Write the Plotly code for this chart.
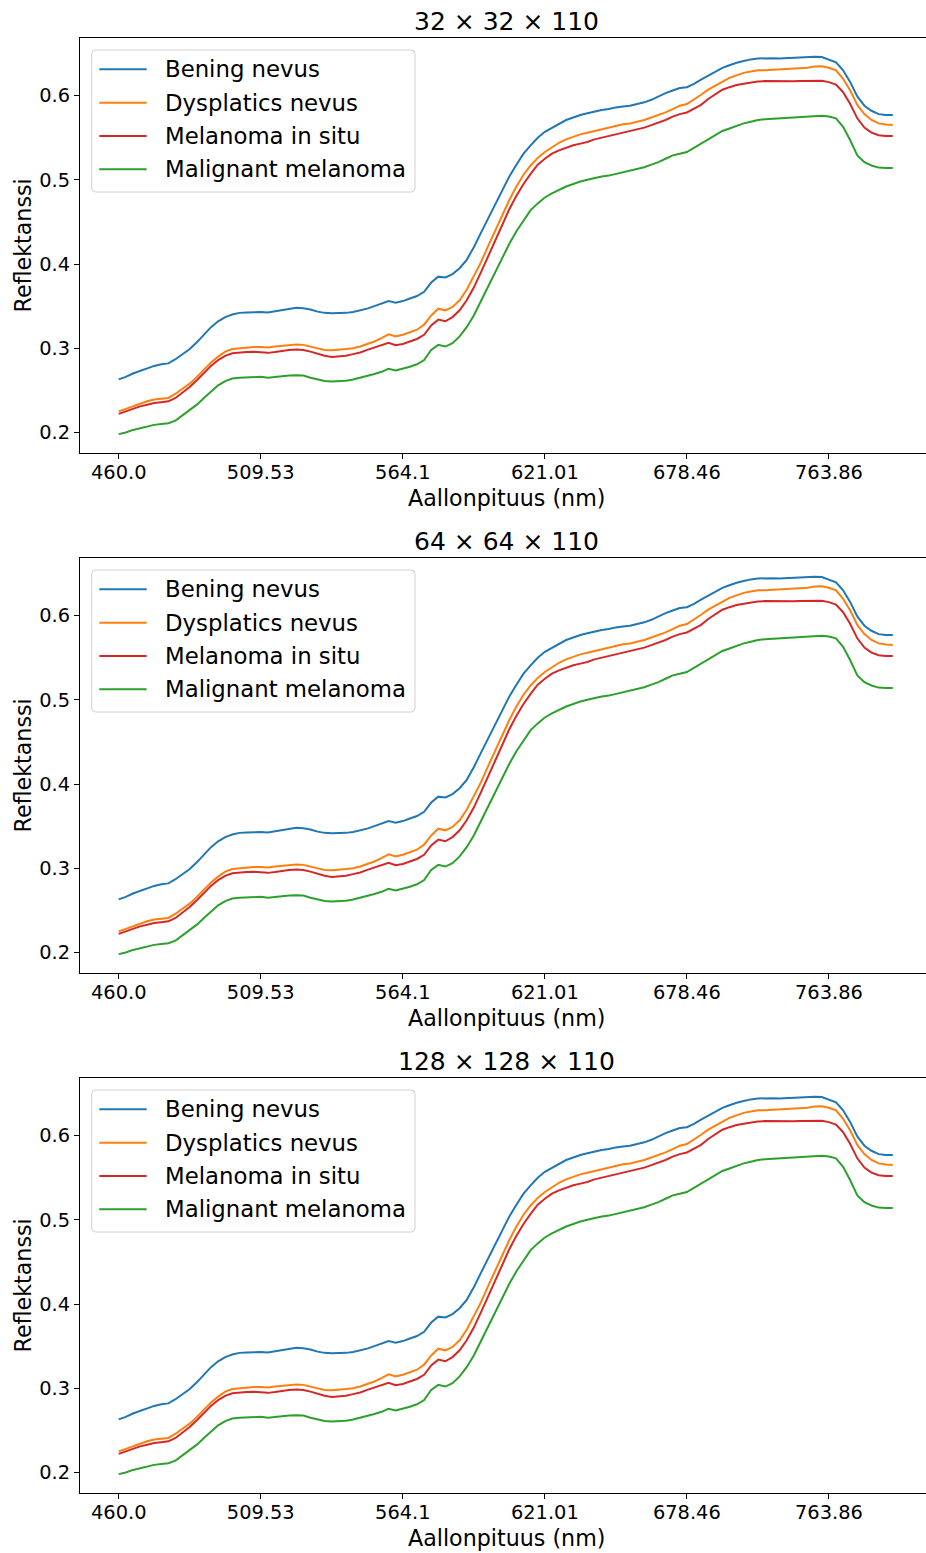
import plotly.graph_objects as go
from plotly.subplots import make_subplots

# ---------------- data ----------------
band_index = list(range(110))
tick_index = [0, 20, 40, 60, 80, 100]
tick_labels = ["460.0", "509.53", "564.1", "621.01", "678.46", "763.86"]
y_ticks = [0.2, 0.3, 0.4, 0.5, 0.6]
panel_titles = ["32 × 32 × 110", "64 × 64 × 110", "128 × 128 × 110"]
series_names = ["Bening nevus", "Dysplatics nevus", "Melanoma in situ", "Malignant melanoma"]
series_colors = ["#1f77b4", "#ff7f0e", "#d62728", "#2ca02c"]

bening_nevus = [
    0.263, 0.266, 0.270, 0.273, 0.276, 0.279, 0.281, 0.282, 0.287, 0.293,
    0.299, 0.307, 0.316, 0.325, 0.332, 0.337, 0.340, 0.342, 0.3425, 0.343,
    0.343, 0.3425, 0.344, 0.345, 0.347, 0.348, 0.3475, 0.346, 0.3435, 0.342,
    0.3415, 0.3415, 0.342, 0.343, 0.345, 0.347, 0.350, 0.353, 0.356, 0.354,
    0.356, 0.359, 0.362, 0.367, 0.378, 0.385, 0.384, 0.388, 0.395, 0.405,
    0.420, 0.437, 0.454, 0.471, 0.488, 0.504, 0.518, 0.531, 0.541, 0.550,
    0.557, 0.562, 0.567, 0.571, 0.574, 0.577, 0.579, 0.581, 0.583, 0.584,
    0.586, 0.587, 0.588, 0.590, 0.592, 0.595, 0.599, 0.603, 0.606, 0.609,
    0.610, 0.614, 0.619, 0.624, 0.629, 0.633, 0.636, 0.639, 0.641, 0.643,
    0.644, 0.6445, 0.6445, 0.644, 0.6445, 0.645, 0.645, 0.6455, 0.646, 0.6458,
    0.643, 0.6395, 0.630, 0.616, 0.599, 0.588, 0.582, 0.578, 0.577, 0.577,
]
dysplatics_nevus = [
    0.225, 0.228, 0.231, 0.234, 0.237, 0.239, 0.240, 0.241, 0.246, 0.252,
    0.258, 0.266, 0.275, 0.283, 0.290, 0.296, 0.299, 0.300, 0.301, 0.3015,
    0.3015, 0.301, 0.302, 0.303, 0.304, 0.3045, 0.304, 0.302, 0.300, 0.298,
    0.2975, 0.298, 0.299, 0.300, 0.302, 0.305, 0.308, 0.312, 0.3165, 0.314,
    0.316, 0.319, 0.322, 0.328, 0.339, 0.347, 0.345, 0.349, 0.357, 0.3695,
    0.385, 0.402, 0.421, 0.440, 0.458, 0.476, 0.492, 0.506, 0.517, 0.526,
    0.533, 0.539, 0.544, 0.548, 0.551, 0.554, 0.556, 0.558, 0.560, 0.562,
    0.564, 0.566, 0.567, 0.569, 0.571, 0.574, 0.577, 0.580, 0.584, 0.588,
    0.590, 0.595, 0.601, 0.607, 0.612, 0.617, 0.621, 0.624, 0.627, 0.6285,
    0.630, 0.630, 0.6305, 0.6305, 0.631, 0.6315, 0.632, 0.633, 0.6345, 0.6348,
    0.633, 0.630, 0.620, 0.606, 0.589, 0.578, 0.571, 0.567, 0.5656, 0.565,
]
melanoma_in_situ = [
    0.222, 0.225, 0.228, 0.231, 0.233, 0.235, 0.236, 0.237, 0.241, 0.247,
    0.254, 0.262, 0.271, 0.279, 0.286, 0.291, 0.294, 0.295, 0.2955, 0.2958,
    0.2955, 0.2945, 0.2955, 0.297, 0.298, 0.2985, 0.298, 0.296, 0.2935, 0.291,
    0.2897, 0.290, 0.291, 0.293, 0.295, 0.298, 0.301, 0.304, 0.3065, 0.3035,
    0.305, 0.308, 0.311, 0.316, 0.327, 0.334, 0.332, 0.337, 0.345, 0.357,
    0.372, 0.390, 0.409, 0.428, 0.447, 0.465, 0.481, 0.495, 0.507, 0.518,
    0.525, 0.531, 0.535, 0.538, 0.541, 0.543, 0.545, 0.548, 0.550, 0.552,
    0.554, 0.556, 0.5577, 0.560, 0.562, 0.565, 0.568, 0.571, 0.575, 0.578,
    0.580, 0.585, 0.589, 0.596, 0.602, 0.607, 0.610, 0.6125, 0.614, 0.6155,
    0.6168, 0.6172, 0.617, 0.6166, 0.6168, 0.617, 0.6172, 0.6176, 0.6178, 0.6176,
    0.616, 0.613, 0.604, 0.590, 0.573, 0.562, 0.556, 0.553, 0.552, 0.552,
]
malignant_melanoma = [
    0.198, 0.200, 0.203, 0.205, 0.207, 0.209, 0.210, 0.211, 0.214, 0.220,
    0.226, 0.233, 0.241, 0.249, 0.256, 0.261, 0.264, 0.265, 0.2655, 0.266,
    0.266, 0.265, 0.266, 0.2665, 0.2675, 0.268, 0.2675, 0.265, 0.263, 0.261,
    0.2605, 0.261, 0.2615, 0.263, 0.265, 0.267, 0.2695, 0.272, 0.2755, 0.2735,
    0.2755, 0.278, 0.281, 0.286, 0.298, 0.304, 0.302, 0.306, 0.314, 0.325,
    0.339, 0.356, 0.373, 0.390, 0.407, 0.424, 0.439, 0.452, 0.464, 0.472,
    0.479, 0.484, 0.488, 0.492, 0.495, 0.498, 0.500, 0.502, 0.504, 0.505,
    0.507, 0.509, 0.511, 0.513, 0.515, 0.518, 0.521, 0.525, 0.529, 0.531,
    0.533, 0.538, 0.543, 0.549, 0.554, 0.558, 0.561, 0.564, 0.567, 0.569,
    0.571, 0.572, 0.5725, 0.5727, 0.573, 0.5735, 0.574, 0.575, 0.5757, 0.5762,
    0.5752, 0.573, 0.563, 0.547, 0.529, 0.521, 0.517, 0.5145, 0.5139, 0.5139,
]

series_values = [bening_nevus, dysplatics_nevus, melanoma_in_situ, malignant_melanoma]

# ---------------- layout geometry (pixels) ----------------
W, H = 926, 1553
ML, MR, MT, MB = 80, 0, 38, 60
PW, PH = W - ML - MR, H - MT - MB
PANEL_STEP = 520
FONT = "DejaVu Sans"


def fx(px):
    return (px - ML) / PW


def fy(py):
    return (H - MB - py) / PH


fig = make_subplots(rows=3, cols=1, vertical_spacing=105 / PH)

for r in range(3):
    for name, color, vals in zip(series_names, series_colors, series_values):
        fig.add_trace(
            go.Scatter(x=band_index, y=vals, mode="lines", name=name,
                       line=dict(color=color, width=2), showlegend=False,
                       legendgroup=name),
            row=r + 1, col=1)

all_vals = [v for s in series_values for v in s]
lo, hi = min(all_vals), max(all_vals)
pad = 0.05 * (hi - lo)
y_range = [lo - pad, hi + pad]
n = len(band_index) - 1
x_range = [-0.05 * n, n + 0.05 * n - 0.78]

axis_common = dict(ticks="outside", ticklen=5, tickwidth=1.1, tickcolor="black",
                   showline=True, linecolor="black", linewidth=1.1,
                   showgrid=False, zeroline=False,
                   tickfont=dict(family=FONT, size=19.4, color="black"))
for r in range(1, 4):
    fig.update_xaxes(range=x_range, tickvals=tick_index, ticktext=tick_labels,
                     mirror=True, ticklabelstandoff=-3, row=r, col=1, **axis_common)
    fig.update_yaxes(range=y_range, tickvals=y_ticks, tickformat=".1f",
                     mirror=False, row=r, col=1, **axis_common)

annotations = []
shapes = []


def rrect_path(x0, y0, x1, y1, rad):
    p = [
        f"M {fx(x0 + rad)},{fy(y0)}",
        f"L {fx(x1 - rad)},{fy(y0)}",
        f"Q {fx(x1)},{fy(y0)} {fx(x1)},{fy(y0 + rad)}",
        f"L {fx(x1)},{fy(y1 - rad)}",
        f"Q {fx(x1)},{fy(y1)} {fx(x1 - rad)},{fy(y1)}",
        f"L {fx(x0 + rad)},{fy(y1)}",
        f"Q {fx(x0)},{fy(y1)} {fx(x0)},{fy(y1 - rad)}",
        f"L {fx(x0)},{fy(y0 + rad)}",
        f"Q {fx(x0)},{fy(y0)} {fx(x0 + rad)},{fy(y0)}",
        "Z",
    ]
    return " ".join(p)


legend_rows = [69.3, 102.7, 136.0, 169.3]
for k in range(3):
    off = PANEL_STEP * k
    annotations.append(dict(text=panel_titles[k], x=fx(506.3), y=fy(21 + off),
                            xref="paper", yref="paper", showarrow=False,
                            xanchor="center", yanchor="middle",
                            font=dict(family=FONT, size=25, color="black")))
    annotations.append(dict(text="Aallonpituus (nm)", x=fx(506.3), y=fy(498 + off),
                            xref="paper", yref="paper", showarrow=False,
                            xanchor="center", yanchor="middle",
                            font=dict(family=FONT, size=22.2, color="black")))
    annotations.append(dict(text="Reflektanssi", x=fx(22), y=fy(245.5 + off),
                            xref="paper", yref="paper", showarrow=False,
                            textangle=-90, xanchor="center", yanchor="middle",
                            font=dict(family=FONT, size=22.2, color="black")))
    # legend frame
    shapes.append(dict(type="path", xref="paper", yref="paper",
                       path=rrect_path(91.7, 50 + off, 415, 192 + off, 4),
                       fillcolor="rgba(255,255,255,0.8)",
                       line=dict(color="#d0d0d0", width=1), layer="above"))
    for name, color, ry in zip(series_names, series_colors, legend_rows):
        shapes.append(dict(type="line", xref="paper", yref="paper",
                           x0=fx(99.3), x1=fx(146.7), y0=fy(ry + off), y1=fy(ry + off),
                           line=dict(color=color, width=2), layer="above"))
        annotations.append(dict(text=name, x=fx(163), y=fy(ry + off),
                                xref="paper", yref="paper", showarrow=False,
                                xanchor="left", yanchor="middle",
                                font=dict(family=FONT, size=22.8, color="black")))

fig.update_layout(
    width=W, height=H, autosize=False,
    margin=dict(l=ML, r=MR, t=MT, b=MB, pad=0),
    paper_bgcolor="white", plot_bgcolor="white",
    font=dict(family=FONT, color="black"),
    annotations=annotations, shapes=shapes,
    showlegend=False,
)

# remove the browser's default 8px body margin so the figure sits at (0, 0)
fig.write_html(
    "out.html",
    config={"displayModeBar": False},
    post_script="document.body.style.margin='0';document.body.style.overflow='hidden';",
)
